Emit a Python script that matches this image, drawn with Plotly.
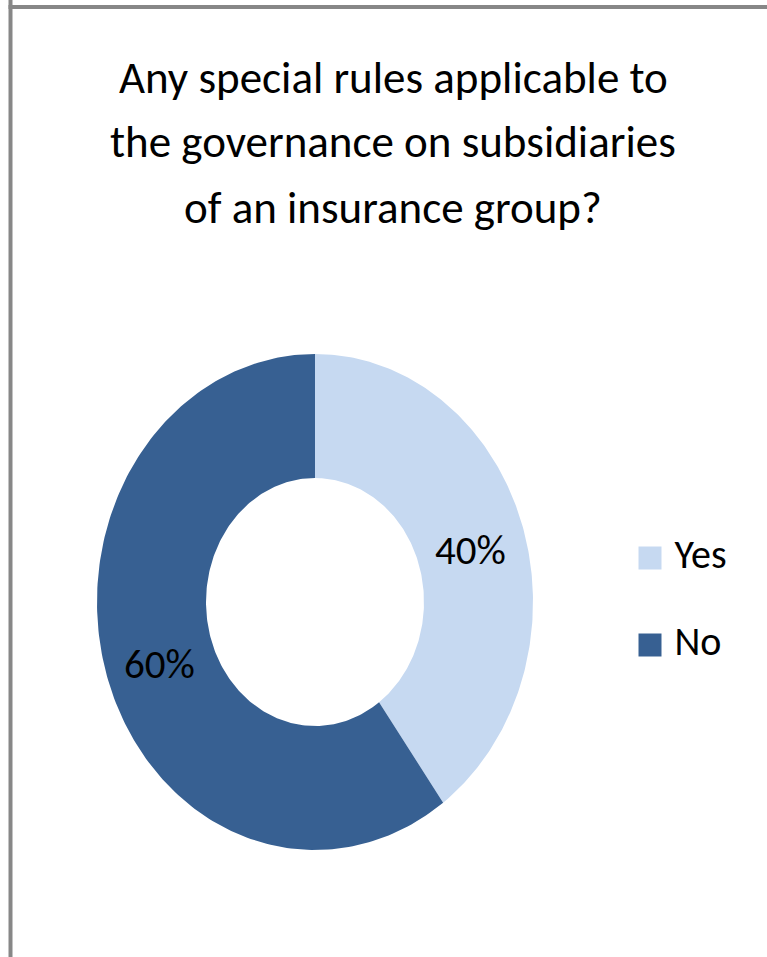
import numpy as np
import plotly.graph_objects as go

# Survey result data
categories = ["Yes", "No"]
values = [40, 60]
colors = ["#C6D9F1", "#376092"]
title_lines = [
    "Any special rules applicable to",
    "the governance on subsidiaries",
    "of an insurance group?",
]

W, H = 767, 957
FONT = "Carlito, Lato, sans-serif"
HOLE = 0.5

fig = go.Figure()

annotations = []

# Donut drawn as filled wedges on unit-circle axes (axes set an elliptical aspect)
total = float(sum(values))
start = 0.0  # fraction of the turn, clockwise from 12 o'clock
for cat, val, col in zip(categories, values, colors):
    frac = val / total
    t = np.linspace(start, start + frac, 200) * 2 * np.pi
    ox, oy = np.sin(t), np.cos(t)
    ix, iy = HOLE * np.sin(t[::-1]), HOLE * np.cos(t[::-1])
    fig.add_trace(go.Scatter(
        x=np.concatenate([ox, ix, ox[:1]]),
        y=np.concatenate([oy, iy, oy[:1]]),
        mode="lines", fill="toself", fillcolor=col,
        line=dict(width=0, color=col), hoverinfo="skip",
        showlegend=False, xaxis="x", yaxis="y",
    ))
    # percentage label in the middle of the ring band
    mid = (start + frac / 2) * 2 * np.pi
    r = (1 + HOLE) / 2
    annotations.append(dict(
        text=f"{val / total * 100:.0f}%", x=r * np.sin(mid), y=r * np.cos(mid),
        xref="x", yref="y", showarrow=False, xanchor="center", yanchor="middle",
        yshift=-5, font=dict(family=FONT, size=41, color="#000000"),
    ))
    start += frac

# Legend: square swatches with category names, on a full-page pixel axis
fig.add_trace(go.Scatter(
    x=[650, 650], y=[558, 645], mode="markers+text",
    marker=dict(symbol="square", size=23, color=colors, line=dict(width=0)),
    text=[" " + c for c in categories], textposition="middle right",
    textfont=dict(family=FONT, size=40, color="#000000"),
    hoverinfo="skip", showlegend=False, xaxis="x2", yaxis="y2",
))

for i, line in enumerate(title_lines):
    annotations.append(dict(
        text=line, x=393 / W, y=1 - (77 + 65 * i) / H, xref="paper", yref="paper",
        showarrow=False, xanchor="center", yanchor="middle",
        font=dict(family=FONT, size=45, color="#000000"),
    ))

fig.update_layout(
    width=W, height=H,
    margin=dict(l=0, r=0, t=0, b=0),
    paper_bgcolor="white", plot_bgcolor="rgba(0,0,0,0)",
    xaxis=dict(range=[-1, 1], domain=[97 / W, 533 / W], visible=False, fixedrange=True),
    yaxis=dict(range=[-1, 1], domain=[(H - 850) / H, (H - 354) / H], visible=False, fixedrange=True),
    xaxis2=dict(range=[0, W], domain=[0, 1], visible=False, anchor="y2", fixedrange=True),
    yaxis2=dict(range=[H, 0], domain=[0, 1], visible=False, anchor="x2", fixedrange=True),
    annotations=annotations,
    shapes=[
        dict(type="line", xref="paper", yref="paper", x0=10.5 / W, x1=10.5 / W, y0=1.01, y1=-0.01,
             line=dict(color="#878787", width=4)),
        dict(type="line", xref="paper", yref="paper", x0=8.5 / W, x1=1.01, y0=1 - 7 / H, y1=1 - 7 / H,
             line=dict(color="#878787", width=4)),
    ],
)

fig.write_html("out.html")
